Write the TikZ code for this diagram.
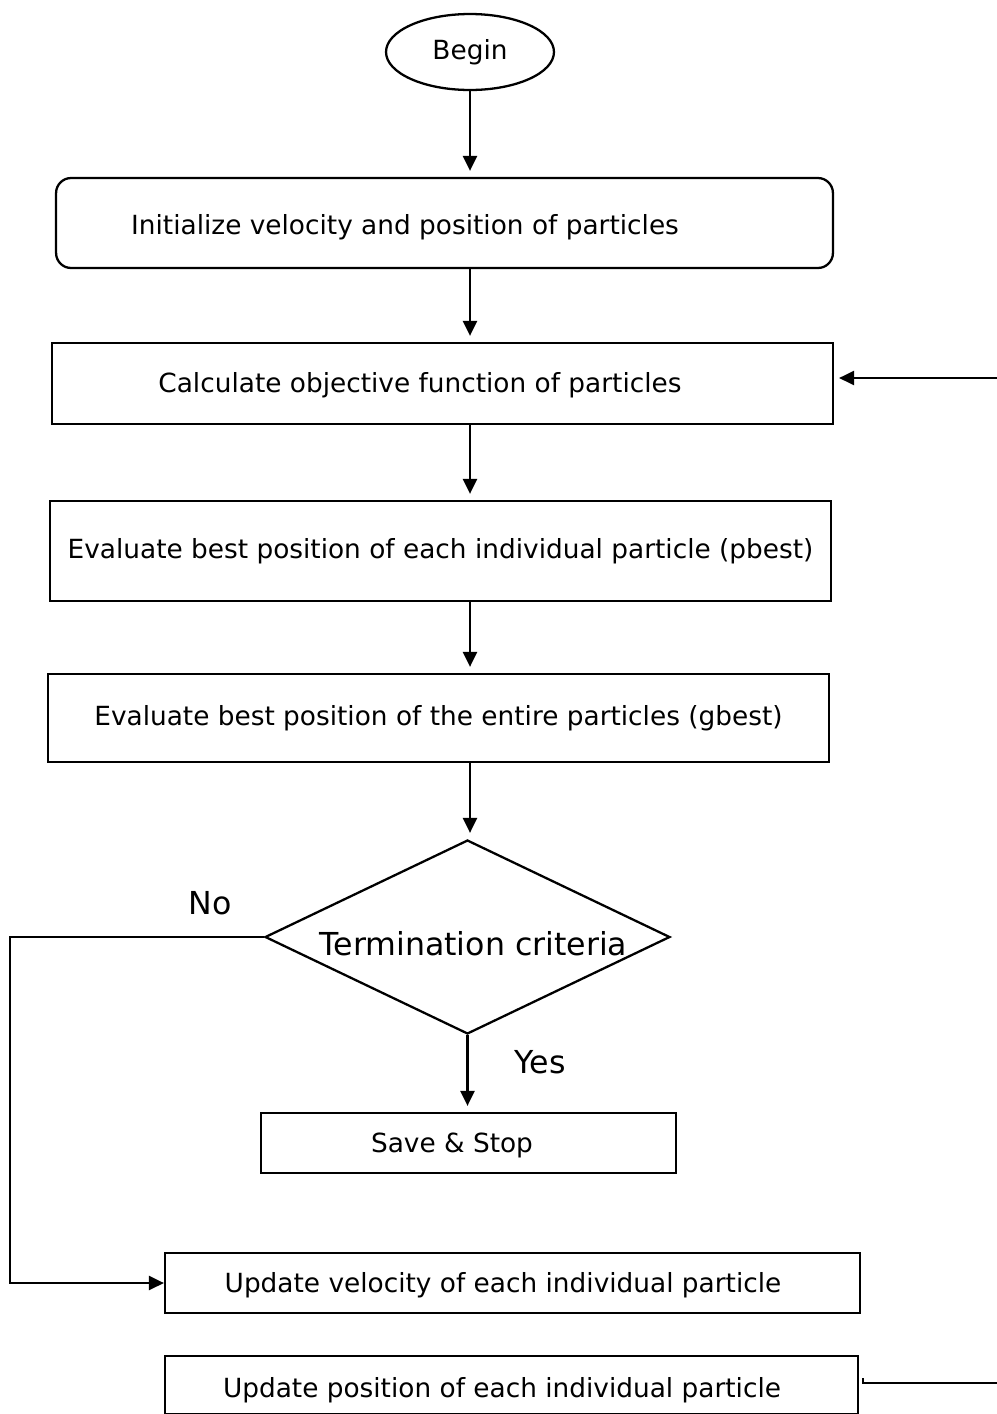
\documentclass[tikz,border=0pt]{standalone}
\usepackage{fontspec}
\setmainfont{DejaVu Sans}
\usetikzlibrary{arrows.meta}
\usetikzlibrary{positioning, shapes.geometric}

\tikzset{
    boxtext/.style={font=\fontsize{15}{18}\selectfont},
    bigtext/.style={font=\fontsize{18}{22}\selectfont},
    stepbox/.style={draw, rectangle, line width=1.3pt, boxtext},
    startnode/.style={draw, ellipse, line width=1.3pt, boxtext,
        minimum width=3.36cm, minimum height=1.52cm, inner sep=0pt},
    testnode/.style={draw, diamond, line width=1.3pt, inner sep=0pt,
        minimum width=8.1cm, minimum height=3.88cm},
    flow/.style={->, shorten >=0.12cm},
}

\begin{document}
\begin{tikzpicture}[x=0.02cm, y=-0.02cm, line width=1.3pt,
    >={Triangle[length=0.3cm, width=0.28cm]}]
    \useasboundingbox (0,0) rectangle (997,1414);

    \node[startnode] (begin) at (470,52) {Begin};
    \node[stepbox, rounded corners=0.3cm, minimum width=15.54cm, minimum height=1.8cm,
        label={[boxtext, xshift=-0.79cm, yshift=-0.08cm]center:Initialize velocity and position of particles}]
        (init) at (444.5,223) {};
    \node[stepbox, minimum width=15.62cm, minimum height=1.62cm,
        label={[boxtext, xshift=-0.45cm, yshift=-0.04cm]center:Calculate objective function of particles}]
        (calc) at (442.5,383.5) {};
    \node[stepbox, minimum width=15.62cm, minimum height=2cm] (pbest) at (440.5,551)
        {Evaluate best position of each individual particle (pbest)};
    \node[stepbox, minimum width=15.62cm, minimum height=1.76cm] (gbest) at (438.5,718)
        {Evaluate best position of the entire particles (gbest)};
    \node[testnode, label={[bigtext, xshift=0.12cm, yshift=-0.14cm]center:Termination criteria}]
        (crit) at (467.5,937) {};
    \node[stepbox, minimum width=8.3cm, minimum height=1.2cm,
        label={[boxtext, xshift=-0.33cm, yshift=-0.04cm]center:Save \& Stop}]
        (stop) at (468.5,1143) {};
    \node[stepbox, minimum width=13.9cm, minimum height=1.2cm,
        label={[boxtext, xshift=-0.19cm, yshift=-0.05cm]center:Update velocity of each individual particle}]
        (uvel) at (512.5,1283) {};
    \node[stepbox, minimum width=13.86cm, minimum height=1.16cm,
        label={[boxtext, xshift=-0.19cm, yshift=-0.1cm]center:Update position of each individual particle}]
        (upos) at (511.5,1385) {};

    \node[bigtext] (no) at (210,903) {No};
    \node[bigtext] (yes) at (540,1062) {Yes};

    \coordinate (noturn) at (10,937);
    \coordinate (loopin) at (997,378);
    \coordinate (loopout) at (997,1383);

    % main column
    \draw[flow] (begin.south) -- (begin.south |- init.north);
    \draw[flow] (init.south -| begin.south) -- (calc.north -| begin.south);
    \draw[flow] (calc.south -| begin.south) -- (pbest.north -| begin.south);
    \draw[flow] (pbest.south -| begin.south) -- (gbest.north -| begin.south);
    \draw[flow] (gbest.south -| begin.south) -- (crit.north -| begin.south);
    \draw[flow] (crit.south) -- (stop.north -| crit.south);

    % loop back
    \draw[->] (crit.west) -- (noturn) |- (uvel.west);
    \draw[flow, shorten >=0.1cm] (loopin) -- (calc.east |- loopin);
    \draw ([xshift=0.08cm, yshift=0.1cm]upos.east |- loopout)
        -- ([xshift=0.08cm]upos.east |- loopout) -- (loopout);
\end{tikzpicture}
\end{document}
